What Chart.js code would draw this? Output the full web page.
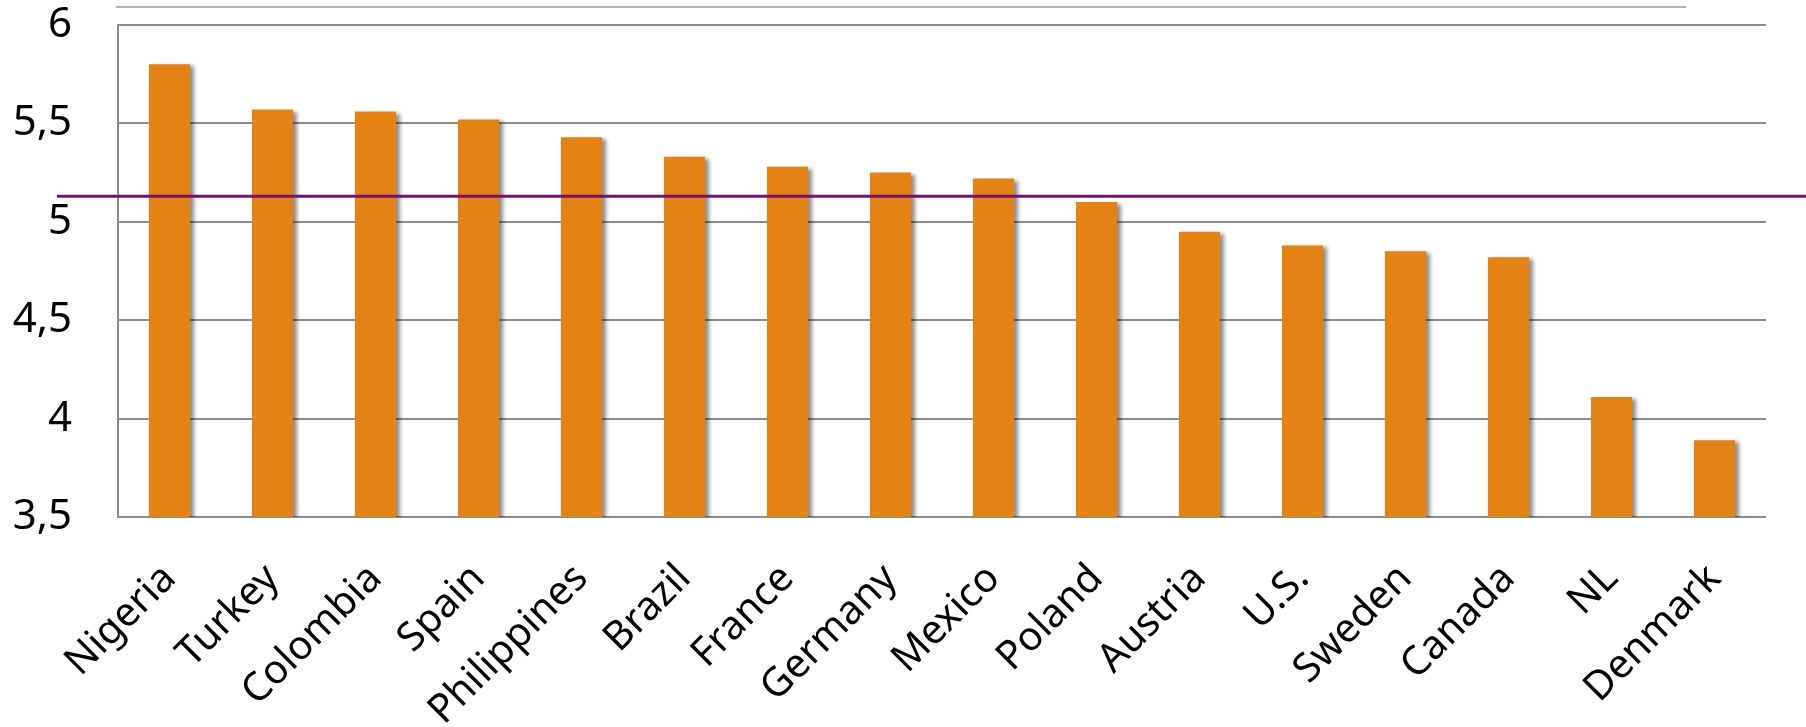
<!DOCTYPE html>
<html>
<head>
<meta charset="utf-8">
<script src="https://cdn.jsdelivr.net/npm/chart.js@4"></script>
<style>
  html, body { margin: 0; padding: 0; background: #fff; }
  canvas { display: block; }
</style>
</head>
<body>
<canvas id="grafico" width="1806" height="727"></canvas>
<script>
// Valores
const paises = ['Nigeria', 'Turkey', 'Colombia', 'Spain', 'Philippines', 'Brazil', 'France', 'Germany',
    'Mexico', 'Poland', 'Austria', 'U.S.', 'Sweden', 'Canada', 'NL', 'Denmark'];
const valores = [5.80, 5.57, 5.56, 5.52, 5.43, 5.33, 5.28, 5.25, 5.22, 5.10, 4.95, 4.88, 4.85, 4.82, 4.11, 3.89];
const media = [5.13];
const ticksY = [3.5, 4, 4.5, 5, 5.5, 6];

const fonte = '"Noto Sans", "Open Sans", sans-serif';
const cinza = '#8c8c8c';

// sombra das barras
const sombra = {
    id: 'sombra',
    beforeDatasetsDraw(chart) {
        const ctx = chart.ctx;
        ctx.save();
        ctx.shadowColor = 'rgba(0,0,0,0.45)';
        ctx.shadowOffsetX = 4;
        ctx.shadowOffsetY = 2;
        ctx.shadowBlur = 4;
    },
    afterDatasetsDraw(chart) {
        chart.ctx.restore();
    }
};

// linha da média + linha fina no topo
const linhas = {
    id: 'linhas',
    afterDatasetsDraw(chart) {
        const ctx = chart.ctx;
        const area = chart.chartArea;
        const y = chart.scales.y.getPixelForValue(media[0]);
        ctx.save();
        ctx.strokeStyle = '#78106f';
        ctx.lineWidth = 3;
        ctx.beginPath();
        ctx.moveTo(area.left - 61, y);
        ctx.lineTo(chart.width, y);
        ctx.stroke();

        ctx.strokeStyle = '#999';
        ctx.lineWidth = 1.5;
        ctx.beginPath();
        ctx.moveTo(area.left - 2, area.top - 18);
        ctx.lineTo(area.right - 80, area.top - 18);
        ctx.stroke();
        ctx.restore();
    }
};

new Chart(document.getElementById('grafico'), {
    type: 'bar',
    data: {
        labels: paises,
        datasets: [{
            data: valores,
            backgroundColor: '#e48313',
            borderWidth: 0,
            barPercentage: 0.4,
            categoryPercentage: 1
        }]
    },
    options: {
        responsive: false,
        animation: false,
        layout: { padding: { top: 25, right: 40, left: 0, bottom: 0 } },
        plugins: {
            legend: { display: false },
            tooltip: { enabled: false }
        },
        scales: {
            x: {
                grid: { display: false },
                border: { display: false },
                ticks: {
                    color: '#000',
                    font: { family: fonte, size: 40 },
                    maxRotation: 45,
                    minRotation: 45,
                    autoSkip: false,
                    padding: 30
                },
                afterFit(scale) { scale.height = 210; }
            },
            y: {
                min: 3.5,
                max: 6,
                afterBuildTicks(scale) {
                    scale.ticks = ticksY.map(v => ({ value: v }));
                },
                grid: { color: cinza, lineWidth: 2, drawTicks: false },
                border: { display: true, color: cinza, width: 2 },
                ticks: {
                    color: '#000',
                    font: { family: fonte, size: 42 },
                    padding: 46,
                    callback: v => String(v).replace('.', ',')
                },
                afterFit(scale) {
                    scale.width = 118;
                    scale.paddingTop = 0;
                    scale.paddingBottom = 0;
                }
            }
        }
    },
    plugins: [sombra, linhas]
});
</script>
</body>
</html>
